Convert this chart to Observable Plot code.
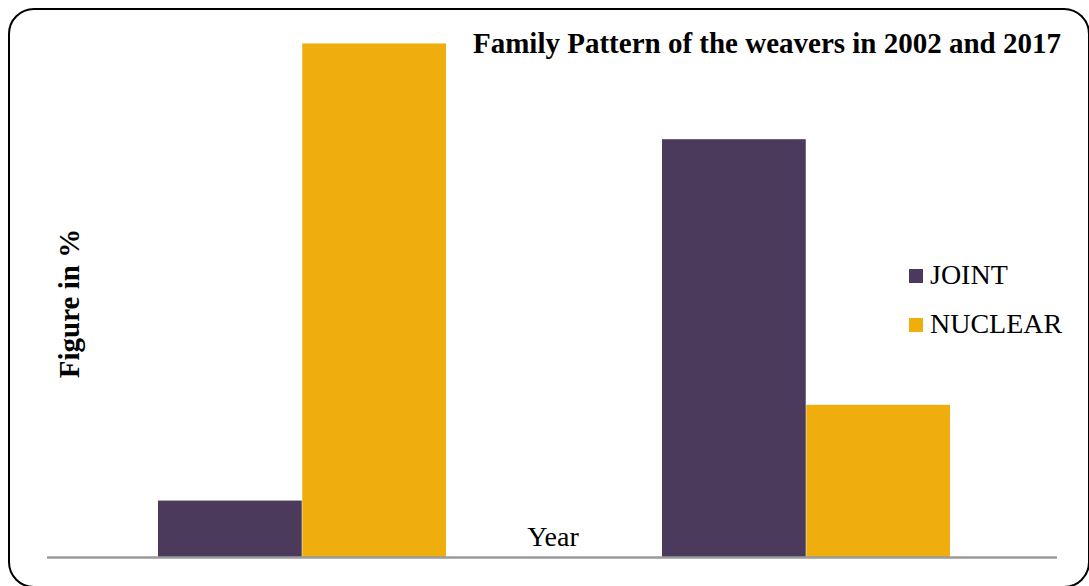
<!DOCTYPE html>
<html>
<head>
<meta charset="utf-8">
<script src="https://cdn.jsdelivr.net/npm/d3@7"></script>
<script src="https://cdn.jsdelivr.net/npm/@observablehq/plot@0.6"></script>
<style>
  html, body { margin: 0; padding: 0; background: #fff; }
  #wrap { position: relative; width: 1089px; height: 586px; overflow: hidden; background: #fff; }
  #border { position: absolute; left: 8px; top: 8px; width: 1082px; height: 580px; box-sizing: border-box;
            border: 2px solid #000; border-radius: 26px; pointer-events: none; }
  #wrap svg { position: absolute; left: 0; top: 0; }
</style>
</head>
<body>
<div id="wrap"><div id="border"></div></div>
<script>
// ---- data ----
const years = ["2002", "2017"];
const series = ["JOINT", "NUCLEAR"];
const jointValues = [9.9, 73.3];
const nuclearValues = [90.1, 26.7];
const seriesColors = ["#4B3A5B", "#EFAE0E"];
const titleText = "Family Pattern of the weavers in 2002 and 2017";
const yLabelText = "Figure in %";
const xLabelText = "Year";

const data = years.flatMap((yr, i) => [
  {year: yr, type: series[0], value: jointValues[i]},
  {year: yr, type: series[1], value: nuclearValues[i]}
]);

// ---- layout ----
const W = 1089, H = 586;
const xRange = [50.7, 1056.3];
const padIn = 0.4287, padOut = 0.21;
const bw = d3.scaleBand().domain(years).range(xRange).paddingInner(padIn).paddingOuter(padOut).bandwidth();
const half = bw / 2;

const chart = Plot.plot({
  width: W,
  height: H,
  marginLeft: 47,
  marginRight: 32,
  marginTop: 0,
  marginBottom: 29,
  style: {background: "transparent", overflow: "visible"},
  x: {domain: years, range: xRange, paddingInner: padIn, paddingOuter: padOut, axis: null},
  y: {domain: [0, 100], range: [557, -13], axis: null},
  color: {domain: series, range: seriesColors},
  marks: [
    Plot.barY(data.filter(d => d.type === series[0]), {x: "year", y: "value", fill: "type", insetRight: half, insetLeft: 0}),
    Plot.barY(data.filter(d => d.type === series[1]), {x: "year", y: "value", fill: "type", insetLeft: half, insetRight: 0}),
    Plot.ruleY([0], {stroke: "#9a9a9a", strokeWidth: 2.5})
  ]
});

const svg = d3.select(chart);
const color = chart.scale("color");
const serif = "'Liberation Serif', 'Times New Roman', Times, serif";

// title
svg.append("text")
  .attr("x", 1061).attr("y", 53)
  .attr("text-anchor", "end")
  .attr("font-family", serif).attr("font-weight", "bold").attr("font-size", 29)
  .attr("fill", "#000")
  .text(titleText);

// y label
svg.append("text")
  .attr("transform", "translate(79,303.5) rotate(-90)")
  .attr("text-anchor", "middle")
  .attr("font-family", serif).attr("font-weight", "bold").attr("font-size", 29)
  .attr("fill", "#000")
  .text(yLabelText);

// x label
svg.append("text")
  .attr("x", 553).attr("y", 546)
  .attr("text-anchor", "middle")
  .attr("font-family", serif).attr("font-size", 28)
  .attr("fill", "#000")
  .text(xLabelText);

// legend
const legend = svg.append("g").attr("text-anchor", "start");
series.forEach((s, i) => {
  const yb = 284 + i * 49;
  legend.append("rect")
    .attr("x", 909).attr("y", yb - 15).attr("width", 14).attr("height", 14)
    .attr("rx", 0).attr("ry", 0)
    .attr("fill", color.apply(s));
  legend.append("text")
    .attr("x", 930).attr("y", yb)
    .attr("text-anchor", "start")
    .attr("font-family", serif).attr("font-size", 28)
    .attr("fill", "#000")
    .text(s);
});

document.getElementById("wrap").appendChild(chart);
</script>
</body>
</html>
